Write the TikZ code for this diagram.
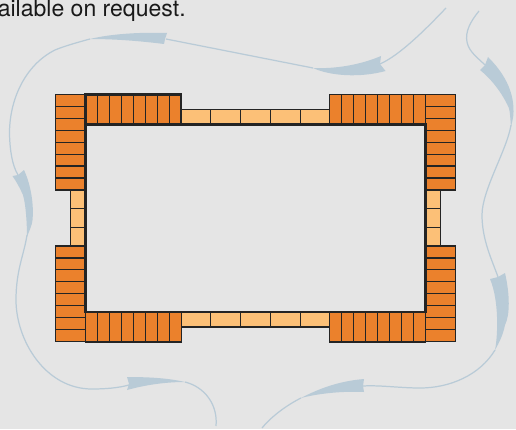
\documentclass[tikz,border=0pt]{standalone}
\usepackage{xcolor}
\usepackage{fontspec}
\setmainfont{TeX Gyre Heros}
\definecolor{pagegrey}{HTML}{E5E5E5}
\definecolor{brickorange}{HTML}{EB812C}
\definecolor{bricklight}{HTML}{FCC077}
\definecolor{brickline}{HTML}{242424}
\definecolor{swooshblue}{HTML}{B9CBD7}

\begin{document}
\begin{tikzpicture}[
  x=0.02cm, y=-0.02cm,
  brick/.style={draw=brickline, line width=0.65pt, fill=brickorange},
  lightbrick/.style={draw=brickline, line width=0.65pt, fill=bricklight},
  wall/.style={draw=brickline, line width=1.4pt, line join=miter},
  swoosh/.style={fill=swooshblue},
  thread/.style={draw=swooshblue, line width=0.7pt}
]
\useasboundingbox (0,0) rectangle (516,429);
\fill[pagegrey] (0,0) rectangle (516,429);

\node[anchor=base east, inner sep=0pt, font=\fontsize{13.1pt}{15pt}\selectfont, text=black!90] (ncaption) at (186,16.7) {ailable on request.};

\foreach \i in {0,...,4} {
  \draw[lightbrick] ({181+29.8*\i},109.5) rectangle ({181+29.8*(\i+1)},124.5);
  \draw[lightbrick] ({181+29.8*\i},312) rectangle ({181+29.8*(\i+1)},327);
}
\foreach \i in {0,...,2} {
  \draw[lightbrick] (70.5,{190+18.6*\i}) rectangle (85.5,{190+18.6*(\i+1)});
  \draw[lightbrick] (425.5,{190+18.6*\i}) rectangle (440.5,{190+18.6*(\i+1)});
}
\foreach \i in {0,...,7} {
  \draw[brick] ({85.5+11.96*\i},94.3) rectangle ({85.5+11.96*(\i+1)},124.5);
  \draw[brick] ({329.8+11.96*\i},94.3) rectangle ({329.8+11.96*(\i+1)},124.5);
  \draw[brick] ({85.5+11.96*\i},312) rectangle ({85.5+11.96*(\i+1)},342);
  \draw[brick] ({329.8+11.96*\i},312) rectangle ({329.8+11.96*(\i+1)},342);
  \draw[brick] (55.5,{94.3+11.96*\i}) rectangle (85.5,{94.3+11.96*(\i+1)});
  \draw[brick] (425.5,{94.3+11.96*\i}) rectangle (455.5,{94.3+11.96*(\i+1)});
  \draw[brick] (55.5,{246+11.96*\i}) rectangle (85.5,{246+11.96*(\i+1)});
  \draw[brick] (425.5,{246+11.96*\i}) rectangle (455.5,{246+11.96*(\i+1)});
}
\draw[wall] (85.5,124.5) rectangle (425.5,312);
\draw[wall] (85.5,124.5) -- (85.5,94.3) -- (181,94.3) -- (181,124.5);

\draw[thread] (446,8) .. controls (425,30) and (400,55) .. (380,64);
\draw[thread] (313,68) -- (166,39);
\fill[swoosh] (381,56) .. controls (360,65) and (335,69) .. (313,68)
  .. controls (330,76) and (360,78) .. (385.5,71) -- (380,64) -- cycle;

\draw[thread] (90,39) .. controls (75,43) and (62,47) .. (55,50)
  .. controls (25,65) and (9,100) .. (9.5,135) .. controls (10,150) and (12,165) .. (18,175);
\fill[swoosh] (167,33) .. controls (140,32) and (110,34) .. (90,39)
  .. controls (115,39) and (140,41) .. (164,44) -- (165,39) -- cycle;

\draw[thread] (27,235) .. controls (24,255) and (16,270) .. (16,300)
  .. controls (16,340) and (45,389) .. (92,389) .. controls (105,389) and (118,388) .. (129,385);
\fill[swoosh] (24,170) .. controls (31,185) and (34,205) .. (32.5,220) .. controls (32,226) and (29,231) .. (27,237)
  .. controls (27,225) and (26,205) .. (23,195) .. controls (20,188) and (16,181) .. (12.5,176) -- (18,175) -- cycle;

\draw[thread] (185,382) .. controls (205,387) and (218,405) .. (216,426);
\fill[swoosh] (127,377) .. controls (148,377) and (168,378) .. (185,382)
  .. controls (165,382) and (145,385) .. (127,390) -- (129,384) -- cycle;

\draw[thread] (479,11) .. controls (470,22) and (465,32) .. (467,42)
  .. controls (469,52) and (478,58) .. (485,65);
\draw[thread] (511,125) .. controls (507,150) and (482,190) .. (482,215)
  .. controls (482,240) and (492,260) .. (498,277);
\fill[swoosh] (488,57) .. controls (503,72) and (514,90) .. (513.5,112) .. controls (513.5,118) and (512,122) .. (511,127)
  .. controls (510,115) and (510,108) .. (507,104) .. controls (500,90) and (490,78) .. (480,70) -- (485,65) -- cycle;

\draw[thread] (495,350) .. controls (480,375) and (450,388) .. (420,388)
  .. controls (400,388) and (380,385) .. (363,386);
\fill[swoosh] (505,273) .. controls (510,295) and (510,315) .. (505,325) .. controls (503,335) and (499,343) .. (495,350)
  .. controls (498,335) and (499,300) .. (490,279) -- (498,277) -- cycle;

\draw[thread] (301,398) .. controls (285,406) and (270,418) .. (262,428);
\fill[swoosh] (364,379) .. controls (340,381) and (320,388) .. (301,398)
  .. controls (320,393) and (345,391) .. (364,392) -- (363,386) -- cycle;
\end{tikzpicture}
\end{document}
